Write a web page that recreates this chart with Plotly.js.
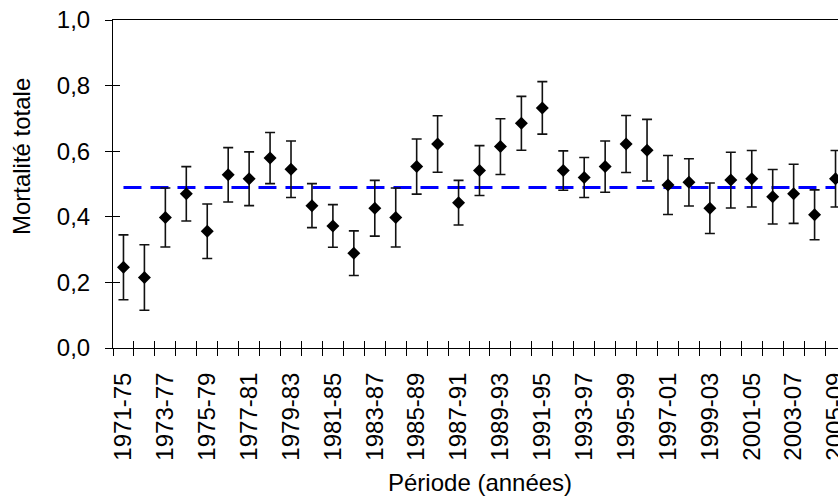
<!DOCTYPE html>
<html>
<head>
<meta charset="utf-8">
<script src="https://cdn.plot.ly/plotly-3.0.1.min.js"></script>
<style>
html, body { margin: 0; padding: 0; overflow: hidden; background: #fff; }
#chart { width: 860px; height: 497px; }
</style>
</head>
<body>
<div id="chart"></div>
<script>
const periods = ["1971-75","1972-76","1973-77","1974-78","1975-79","1976-80","1977-81","1978-82","1979-83","1980-84",
  "1981-85","1982-86","1983-87","1984-88","1985-89","1986-90","1987-91","1988-92","1989-93","1990-94",
  "1991-95","1992-96","1993-97","1994-98","1995-99","1996-00","1997-01","1998-02","1999-03","2000-04",
  "2001-05","2002-06","2003-07","2004-08","2005-09"];
const mortality = [0.246,0.215,0.398,0.470,0.356,0.528,0.516,0.579,0.545,0.434,
  0.372,0.289,0.426,0.398,0.553,0.622,0.443,0.541,0.614,0.685,
  0.732,0.541,0.520,0.553,0.622,0.603,0.497,0.505,0.426,0.512,
  0.516,0.461,0.470,0.406,0.516];
const errors = [0.099,0.100,0.090,0.083,0.083,0.083,0.082,0.078,0.086,0.067,
  0.065,0.068,0.085,0.090,0.084,0.086,0.068,0.076,0.085,0.082,
  0.080,0.060,0.061,0.078,0.087,0.094,0.090,0.072,0.077,0.085,
  0.086,0.083,0.090,0.076,0.086];
const meanMortality = 0.489;
const yTickVals = [0, 0.2, 0.4, 0.6, 0.8, 1.0];
const yTickText = ["0,0","0,2","0,4","0,6","0,8","1,0"];
const xTickText = periods.map((p, i) => (i % 2 === 0 ? p : ""));

const FONT = "Liberation Sans, Arial, sans-serif";
const FS = 24;

const traces = [
  {
    x: periods,
    y: periods.map(() => meanMortality),
    type: "scatter",
    mode: "lines",
    line: { color: "#0000FF", width: 3, dash: "18px,9px" },
    hoverinfo: "skip",
    showlegend: false
  },
  {
    x: periods,
    y: mortality,
    type: "scatter",
    mode: "markers",
    marker: { symbol: "diamond", size: 10, color: "#000000" },
    error_y: { type: "data", array: errors, visible: true, color: "#111111", thickness: 1.6, width: 5 },
    showlegend: false
  }
];

const layout = {
  width: 860,
  height: 497,
  margin: { l: 113, r: 14, t: 20, b: 149 },
  paper_bgcolor: "#ffffff",
  plot_bgcolor: "#ffffff",
  font: { family: FONT, size: FS, color: "#000000" },
  showlegend: false,
  xaxis: {
    type: "category",
    range: [-0.5, periods.length - 0.5],
    tickmode: "array",
    tickvals: periods,
    ticktext: xTickText,
    tickson: "boundaries",
    ticks: "outside",
    ticklen: 7,
    tickwidth: 1,
    tickcolor: "#000",
    tickangle: -90,
    tickfont: { family: FONT, size: FS },
    showline: true,
    linecolor: "#000",
    linewidth: 1,
    mirror: true,
    showgrid: false,
    zeroline: false,
    ticklabelstandoff: 14
  },
  yaxis: {
    range: [0, 1],
    tickmode: "array",
    tickvals: yTickVals,
    ticktext: yTickText,
    ticks: "outside",
    ticklen: 7,
    tickwidth: 1,
    tickcolor: "#000",
    tickfont: { family: FONT, size: FS },
    showline: true,
    linecolor: "#000",
    linewidth: 1,
    showgrid: false,
    zeroline: false,
    ticklabelstandoff: 10
  },
  xaxis2: {
    overlaying: "x",
    anchor: "y",
    type: "category",
    range: [-0.5, periods.length - 0.5],
    tickmode: "array",
    tickvals: periods,
    ticktext: periods.map(() => ""),
    tickson: "boundaries",
    ticks: "inside",
    ticklen: 7,
    tickwidth: 1,
    tickcolor: "#000",
    showticklabels: false,
    showline: false,
    showgrid: false,
    zeroline: false
  },
  yaxis2: {
    overlaying: "y",
    anchor: "x",
    range: [0, 1],
    tickmode: "array",
    tickvals: yTickVals,
    ticks: "inside",
    ticklen: 7,
    tickwidth: 1,
    tickcolor: "#000",
    showticklabels: false,
    showline: false,
    showgrid: false,
    zeroline: false
  },
  annotations: [
    {
      text: "Mortalité totale",
      xref: "paper", yref: "paper",
      x: -0.1255, y: 0.582,
      xanchor: "center", yanchor: "middle",
      textangle: -90,
      showarrow: false,
      font: { family: FONT, size: FS, color: "#000" }
    },
    {
      text: "Période (années)",
      xref: "paper", yref: "paper",
      x: 0.5, y: -0.41,
      xanchor: "center", yanchor: "middle",
      showarrow: false,
      font: { family: FONT, size: FS, color: "#000" }
    }
  ]
};

const dummy = {
  x: periods, y: periods.map(() => null),
  xaxis: "x2", yaxis: "y2",
  type: "scatter", mode: "markers",
  marker: { opacity: 0 }, hoverinfo: "skip", showlegend: false
};

Plotly.newPlot("chart", traces.concat([dummy]), layout, { staticPlot: true, displayModeBar: false });
</script>
</body>
</html>
